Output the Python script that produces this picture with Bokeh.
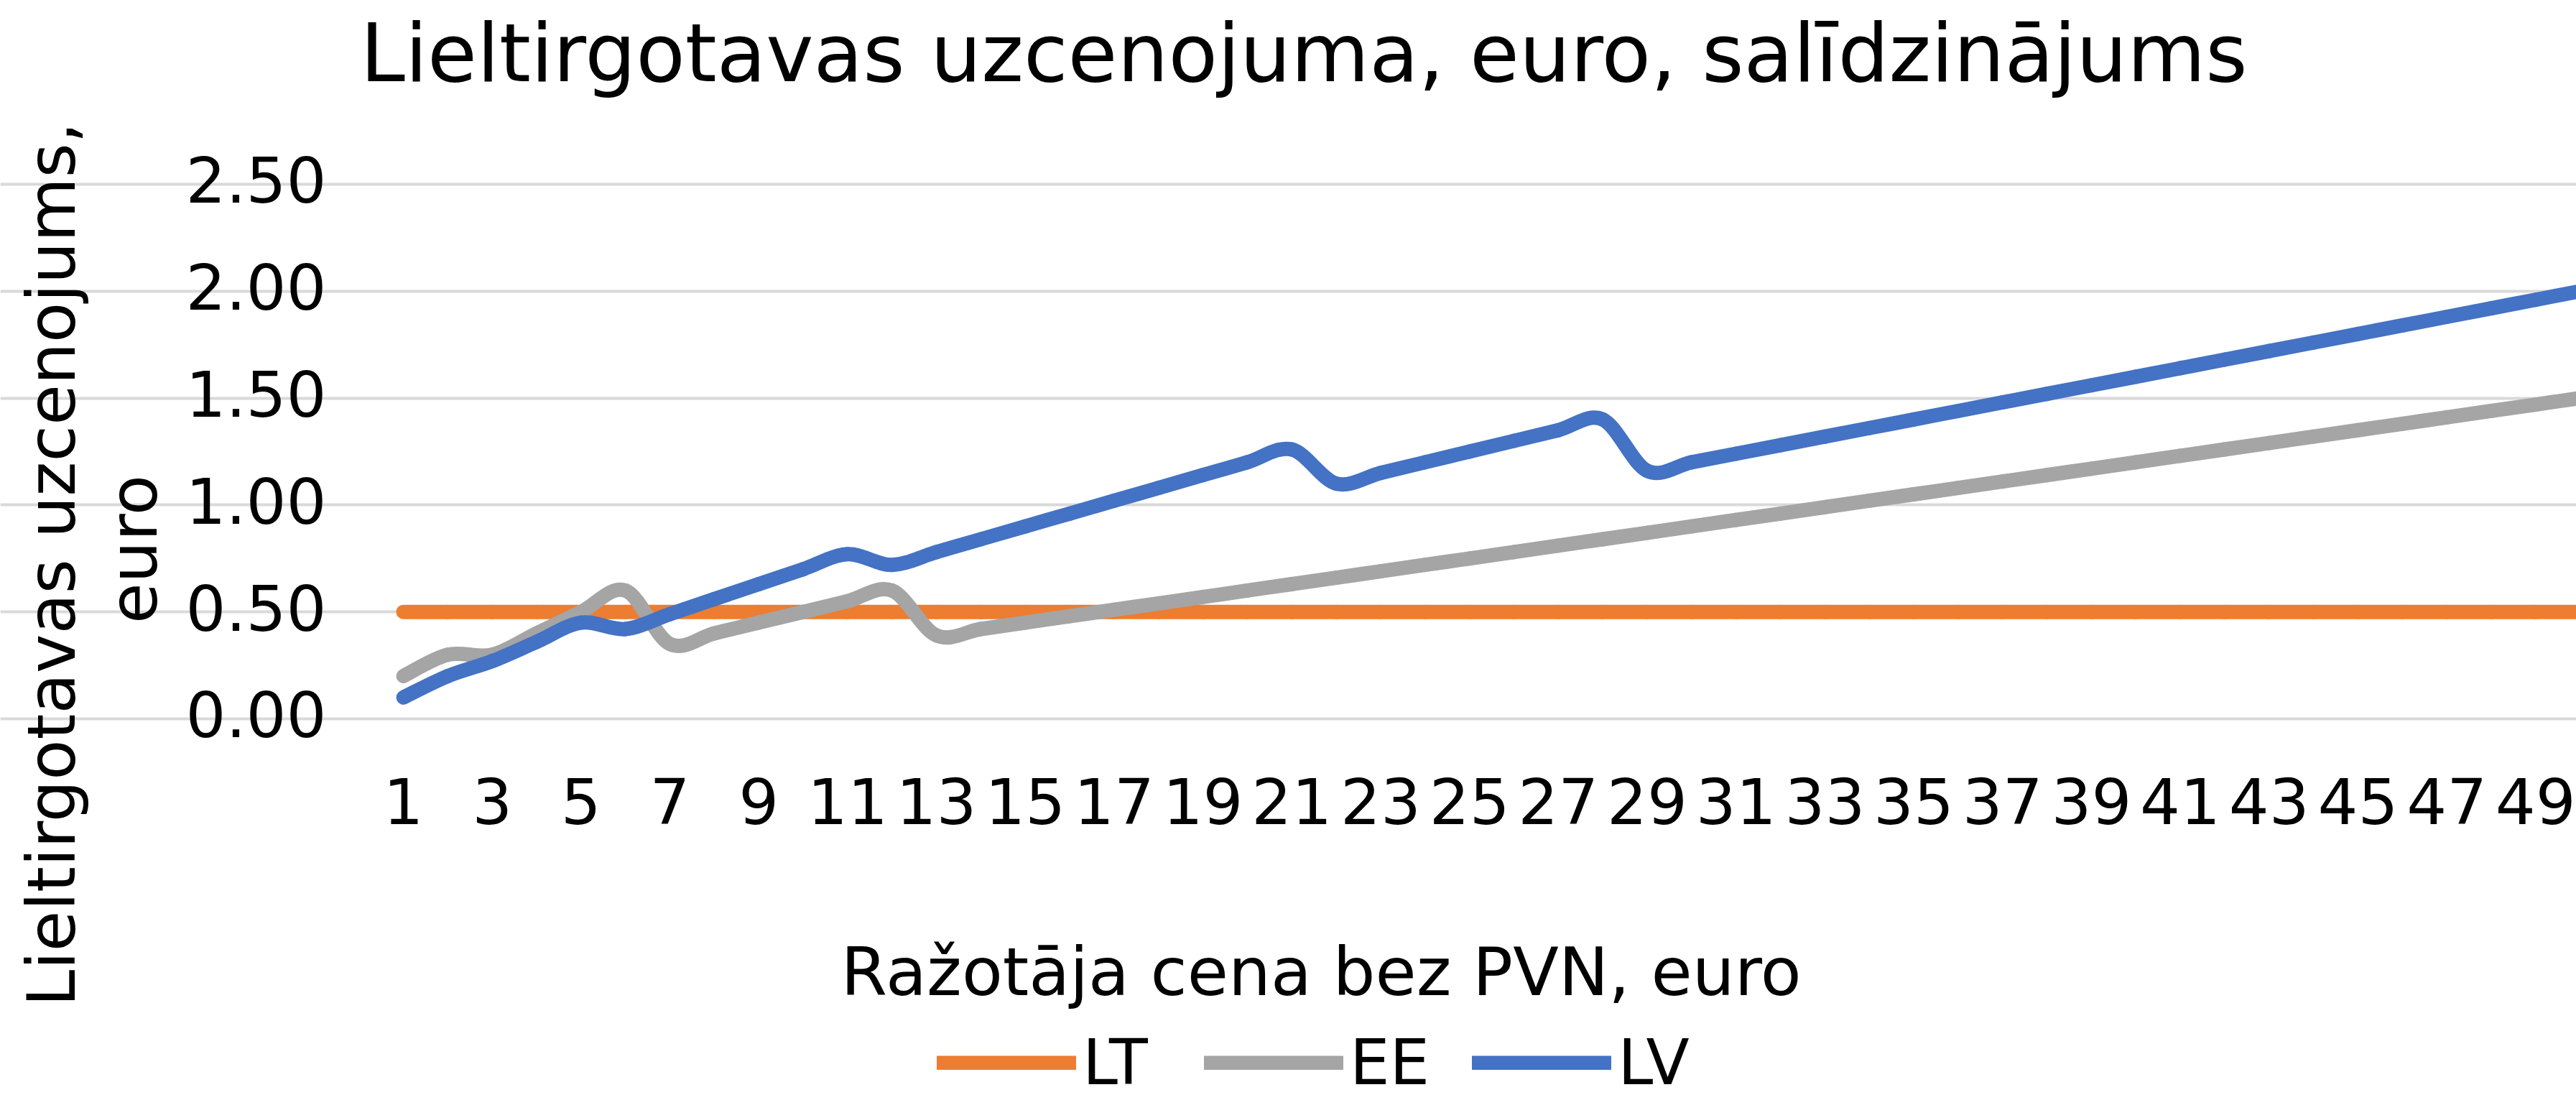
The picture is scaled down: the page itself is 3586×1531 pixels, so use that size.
import math
from bokeh.plotting import figure
from bokeh.models import Range1d, FixedTicker, Grid, Label, Legend, LegendItem
from bokeh.core.properties import value
from bokeh.embed import file_html
from bokeh.resources import INLINE

# ---------------- data ----------------
title_text = "Lieltirgotavas uzcenojuma, euro, salīdzinājums"
x_axis_title = "Ražotāja cena bez PVN, euro"
y_axis_title_lines = ["Lieltirgotavas uzcenojums,", "euro"]

prices = [1, 2, 3, 4, 5, 6, 7, 8, 9, 10,
          11, 12, 13, 14, 15, 16, 17, 18, 19, 20,
          21, 22, 23, 24, 25, 26, 27, 28, 29, 30,
          31, 32, 33, 34, 35, 36, 37, 38, 39, 40,
          41, 42, 43, 44, 45, 46, 47, 48, 49, 50]

lt_values = [0.50] * 50

ee_values = [0.20, 0.30, 0.30, 0.40, 0.50, 0.60, 0.35, 0.40, 0.45, 0.50,
             0.55, 0.60, 0.39, 0.42, 0.45, 0.48, 0.51, 0.54, 0.57, 0.60,
             0.63, 0.66, 0.69, 0.72, 0.75, 0.78, 0.81, 0.84, 0.87, 0.90,
             0.93, 0.96, 0.99, 1.02, 1.05, 1.08, 1.11, 1.14, 1.17, 1.20,
             1.23, 1.26, 1.29, 1.32, 1.35, 1.38, 1.41, 1.44, 1.47, 1.50]

lv_values = [0.10, 0.20, 0.27, 0.36, 0.45, 0.42, 0.49, 0.56, 0.63, 0.70,
             0.77, 0.72, 0.78, 0.84, 0.90, 0.96, 1.02, 1.08, 1.14, 1.20,
             1.26, 1.10, 1.15, 1.20, 1.25, 1.30, 1.35, 1.40, 1.16, 1.20,
             1.24, 1.28, 1.32, 1.36, 1.40, 1.44, 1.48, 1.52, 1.56, 1.60,
             1.64, 1.68, 1.72, 1.76, 1.80, 1.84, 1.88, 1.92, 1.96, 2.00]

series_names = ["LT", "EE", "LV"]
series_colors = ["#ED7D31", "#A5A5A5", "#4472C4"]

x_ticks = [1, 3, 5, 7, 9, 11, 13, 15, 17, 19, 21, 23, 25, 27, 29, 31, 33,
           35, 37, 39, 41, 43, 45, 47, 49]
x_tick_labels = ["1", "3", "5", "7", "9", "11", "13", "15", "17", "19", "21", "23", "25",
                 "27", "29", "31", "33", "35", "37", "39", "41", "43", "45", "47", "49"]
y_ticks = [0.0, 0.5, 1.0, 1.5, 2.0, 2.5]
y_tick_labels = ["0.00", "0.50", "1.00", "1.50", "2.00", "2.50"]

# ---------------- layout ----------------
FONT = "DejaVu Sans"
W, H = 3586, 1531
PX_X = 61.84                 # pixels per price unit
PX_Y = 297.6                 # pixels per euro of markup
X_LO = -8.0718               # data x at the canvas left edge
Y_HI = 3.3602                # data y at the canvas top edge
X_HI = X_LO + W / PX_X
Y_LO = Y_HI - H / PX_Y
PLOT_X_LO = 0.531            # left edge of the plotting area (data units)


def smooth_segments(xs, ys):
    """Bezier segments (Excel-like smoothed line) through the data points."""
    n = len(xs)
    out = dict(x0=[], y0=[], x1=[], y1=[], cx0=[], cy0=[], cx1=[], cy1=[])
    for i in range(n - 1):
        a = i - 1 if i > 0 else i
        d = i + 2 if i + 2 < n else i + 1
        out["x0"].append(xs[i]); out["y0"].append(ys[i])
        out["x1"].append(xs[i + 1]); out["y1"].append(ys[i + 1])
        out["cx0"].append(xs[i] + (xs[i + 1] - xs[a]) / 6.0)
        out["cy0"].append(ys[i] + (ys[i + 1] - ys[a]) / 6.0)
        out["cx1"].append(xs[i + 1] - (xs[d] - xs[i]) / 6.0)
        out["cy1"].append(ys[i + 1] - (ys[d] - ys[i]) / 6.0)
    return out


p = figure(width=W, height=H, output_backend="svg", toolbar_location=None,
           x_range=Range1d(X_LO, X_HI), y_range=Range1d(Y_LO, Y_HI),
           x_axis_location=None, y_axis_location=None,
           min_border=0, min_border_left=0, min_border_right=0,
           min_border_top=0, min_border_bottom=0)
p.outline_line_color = None
p.background_fill_color = "white"
p.border_fill_color = "white"
p.title.visible = False
for g in p.grid:
    g.visible = False

# horizontal gridlines, limited to the plotting area
p.add_layout(Grid(dimension=1, ticker=FixedTicker(ticks=y_ticks),
                  bounds=(PLOT_X_LO, X_HI),
                  grid_line_color="#d9d9d9", grid_line_width=4))

# tick labels (y: right aligned left of the plot area; x: below it)
p.text(x=[PLOT_X_LO - 78.0 / PX_X] * len(y_ticks),
       y=[v + 6.0 / PX_Y for v in y_ticks], text=y_tick_labels,
       text_font=value(FONT), text_font_size=value("88px"), text_color="black",
       text_align="right", text_baseline="alphabetic")
p.text(x=x_ticks, y=[-115.0 / PX_Y] * len(x_ticks), text=x_tick_labels,
       text_font=value(FONT), text_font_size=value("88px"), text_color="black",
       text_align="center", text_baseline="alphabetic")

renderers = []
for name, vals, col in zip(series_names, [lt_values, ee_values, lv_values], series_colors):
    seg = smooth_segments(prices, vals)
    r = p.bezier(x0=seg["x0"], y0=seg["y0"], x1=seg["x1"], y1=seg["y1"],
                 cx0=seg["cx0"], cy0=seg["cy0"], cx1=seg["cx1"], cy1=seg["cy1"],
                 line_color=col, line_width=20, line_cap="round")
    renderers.append((name, r))

legend = Legend(items=[LegendItem(label=n, renderers=[r]) for n, r in renderers],
                orientation="horizontal", location=(1304, 1),
                glyph_width=194, glyph_height=20, label_standoff=9,
                spacing=59, label_width=110, padding=0, margin=0,
                border_line_color=None, background_fill_alpha=0,
                label_text_font=FONT, label_text_font_size="88px",
                label_text_color="black")
p.add_layout(legend)

# chart title (screen units measured from the canvas bottom-left)
p.add_layout(Label(x=501, y=1458, x_units="screen", y_units="screen", text=title_text,
                   text_font=FONT, text_font_size="112px", text_color="black",
                   text_align="left", text_baseline="alphabetic"))
# y axis title, two rotated lines
p.add_layout(Label(x=72, y=746, x_units="screen", y_units="screen",
                   text=y_axis_title_lines[0], angle=math.pi / 2,
                   text_font=FONT, text_font_size="92px", text_color="black",
                   text_align="center", text_baseline="alphabetic"))
p.add_layout(Label(x=186, y=767, x_units="screen", y_units="screen",
                   text=y_axis_title_lines[1], angle=math.pi / 2,
                   text_font=FONT, text_font_size="92px", text_color="black",
                   text_align="center", text_baseline="alphabetic"))
# x axis title
p.add_layout(Label(x=1170, y=179, x_units="screen", y_units="screen", text=x_axis_title,
                   text_font=FONT, text_font_size="93px", text_color="black",
                   text_align="left", text_baseline="alphabetic"))

open("out.html", "w").write(file_html(p, INLINE))
